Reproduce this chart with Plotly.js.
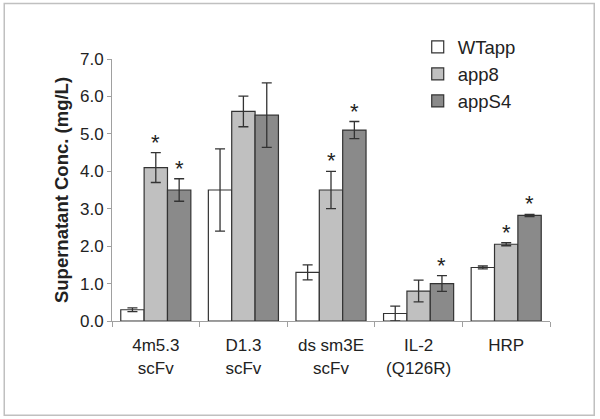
<!DOCTYPE html>
<html><head><meta charset="utf-8">
<script src="https://cdn.plot.ly/plotly-3.0.1.min.js"></script>
<style>body{margin:0;background:#fff}#chart{width:600px;height:419px}</style>
</head><body><div id="chart"></div>
<script>
const categories = ["4m5.3<br>scFv", "D1.3<br>scFv", "ds sm3E<br>scFv", "IL-2<br>(Q126R)", "HRP"];
const seriesNames = ["WTapp", "app8", "appS4"];
const wtapp = [0.3, 3.5, 1.3, 0.2, 1.43];
const wtappErr = [0.05, 1.1, 0.2, 0.2, 0.04];
const app8 = [4.1, 5.6, 3.5, 0.8, 2.05];
const app8Err = [0.4, 0.41, 0.5, 0.29, 0.04];
const apps4 = [3.5, 5.5, 5.1, 1.0, 2.82];
const apps4Err = [0.3, 0.86, 0.23, 0.21, 0.03];
const wtappSig = [false, false, false, false, false];
const app8Sig = [true, false, true, false, true];
const apps4Sig = [true, false, true, true, true];
const yTicks = [0, 1, 2, 3, 4, 5, 6, 7];

const colors = ["#ffffff", "#c0c0c0", "#8a8a8a"];
const values = [wtapp, app8, apps4];
const errs = [wtappErr, app8Err, apps4Err];
const sigs = [wtappSig, app8Sig, apps4Sig];

const traces = values.map((v, i) => ({
  type: "bar", name: seriesNames[i], x: categories, y: v,
  marker: {color: colors[i], line: {color: "#333333", width: 1.2}},
  error_y: {type: "data", array: errs[i], visible: true, color: "#333333", thickness: 1.3, width: 5},
  hoverinfo: "none"
}));

const plotW = 438;
const barW = plotW / categories.length * 0.8 / 3;
const annotations = [];
values.forEach((v, i) => {
  v.forEach((val, j) => {
    if (sigs[i][j]) {
      annotations.push({
        x: categories[j], y: val + errs[i][j], xref: "x", yref: "y",
        text: "*", showarrow: false, yanchor: "bottom", yshift: -4,
        xshift: (i - 1) * barW,
        font: {family: "Liberation Sans, Arial, sans-serif", size: 22, color: "#222"}
      });
    }
  });
});

const layout = {
  width: 600, height: 419,
  margin: {l: 112, r: 50, t: 59, b: 98},
  paper_bgcolor: "#fff", plot_bgcolor: "#fff",
  barmode: "group", bargap: 0.2, bargroupgap: 0,
  font: {family: "Liberation Sans, Arial, sans-serif", color: "#222", size: 17},
  showlegend: true,
  legend: {x: 0.698, y: 1.117, xanchor: "left", yanchor: "top", font: {size: 18.5, color: "#222"}, bgcolor: "rgba(0,0,0,0)", itemwidth: 30, tracegroupgap: 0},
  xaxis: {type: "category", showline: true, linecolor: "#a0a0a0", linewidth: 1, ticks: "outside", tickson: "boundaries", ticklen: 5, tickcolor: "#a0a0a0", tickfont: {size: 17}, ticklabelstandoff: 9, showgrid: false, fixedrange: true},
  yaxis: {range: [0, 7], tickvals: yTicks, ticktext: yTicks.map(t => t.toFixed(1)), showline: true, linecolor: "#a0a0a0", linewidth: 1, ticks: "outside", ticklen: 4, tickcolor: "#a0a0a0", tickfont: {size: 17}, showgrid: false, zeroline: false,
    title: {text: "<b>Supernatant Conc. (mg/L)</b>", font: {size: 18.5}, standoff: 6}},
  annotations: annotations,
  shapes: [{type: "rect", xref: "paper", yref: "paper", x0: -0.246, x1: 1.101, y0: -0.36, y1: 1.212, line: {color: "#c0c0c0", width: 1.5}}]
};
Plotly.newPlot("chart", traces, layout, {displayModeBar: false, staticPlot: true});
</script></body></html>
